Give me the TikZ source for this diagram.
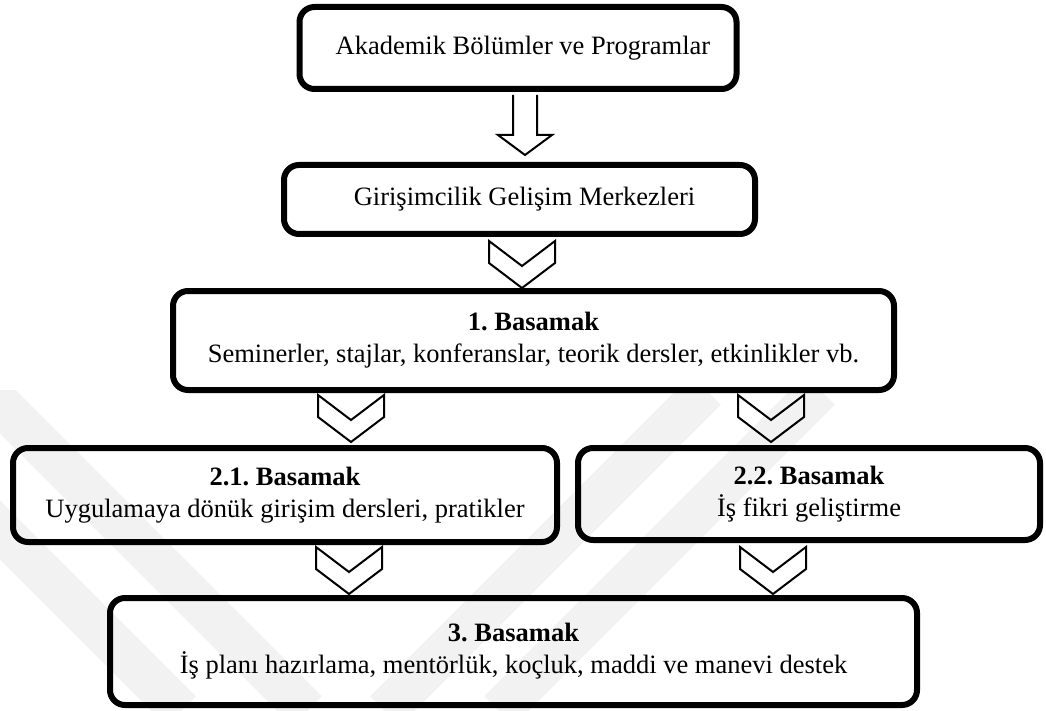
\documentclass[tikz,border=0pt]{standalone}
\usepackage{fontspec}
\setmainfont{Liberation Serif}
\usetikzlibrary{calc}
\tikzset{
  box/.style={draw, line width=6pt, rounded corners=15pt, align=center,
    font=\fontsize{26.5}{32}\selectfont\frenchspacing, inner sep=0pt},
  chevline/.style={draw, line width=2pt, line join=miter},
  wm/.style={line width=42pt, draw=black!5},
  chevron/.pic={\path[chevline] (-33,0) -- (0,25) -- (33,0) -- (33,22) -- (0,47) -- (-33,22) -- cycle;}
}
\begin{document}
\begin{tikzpicture}[x=1pt,y=-1pt]
\useasboundingbox (0,0) rectangle (1046,711);
% faint watermark
\begin{scope}
  \clip (0,390) rectangle (1046,711);
  \draw[wm] (-140,390) -- (181,711);
  \draw[wm] (-14,390) -- (307,711);
  \draw[wm] (706,390) -- (385,711);
  \draw[wm] (820,390) -- (499,711);
\end{scope}
% boxes
\node[box, minimum width=437pt, minimum height=82pt] (b1) at (518,48) {\hspace{10pt}Akademik Bölümler ve Programlar};
\node[box, minimum width=471pt, minimum height=69pt] (b2) at (519.5,199.5) {\hspace{10pt}Girişimcilik Gelişim Merkezleri};
\node[box, minimum width=721pt, minimum height=99pt] (s1) at (533.5,340.5) {\textbf{1. Basamak}\\Seminerler, stajlar, konferanslar, teorik dersler, etkinlikler vb.};
\node[box, minimum width=544pt, minimum height=94pt] (s21) at (285,495) {\textbf{2.1. Basamak}\\Uygulamaya dönük girişim dersleri, pratikler};
\node[box, minimum width=462pt, minimum height=92pt] (s22) at (809,494) {\textbf{2.2. Basamak}\\İş fikri geliştirme};
\node[box, minimum width=807pt, minimum height=107pt] (s3) at (513.5,651.5) {\textbf{3. Basamak}\\İş planı hazırlama, mentörlük, koçluk, maddi ve manevi destek};
% block arrow b1 -> b2
\coordinate (top) at ($(b1.south)+(7,3)$);
\coordinate (tip) at ($(b2.north)+(5.5,-7)$);
\draw[chevline] ($(top)+(-12,0)$) -- ($(top)+(-12,40)$) -- ($(top)+(-27,40)$) -- (tip)
  -- ($(top)+(27,40)$) -- ($(top)+(12,40)$) -- ($(top)+(12,0)$);
% chevrons
\pic at ($(b2.south)+(2.5,4)$) {chevron};
\pic at (351,395) {chevron};
\pic at (771,395) {chevron};
\pic at (349,547) {chevron};
\pic at (773,547) {chevron};
\end{tikzpicture}
\end{document}
